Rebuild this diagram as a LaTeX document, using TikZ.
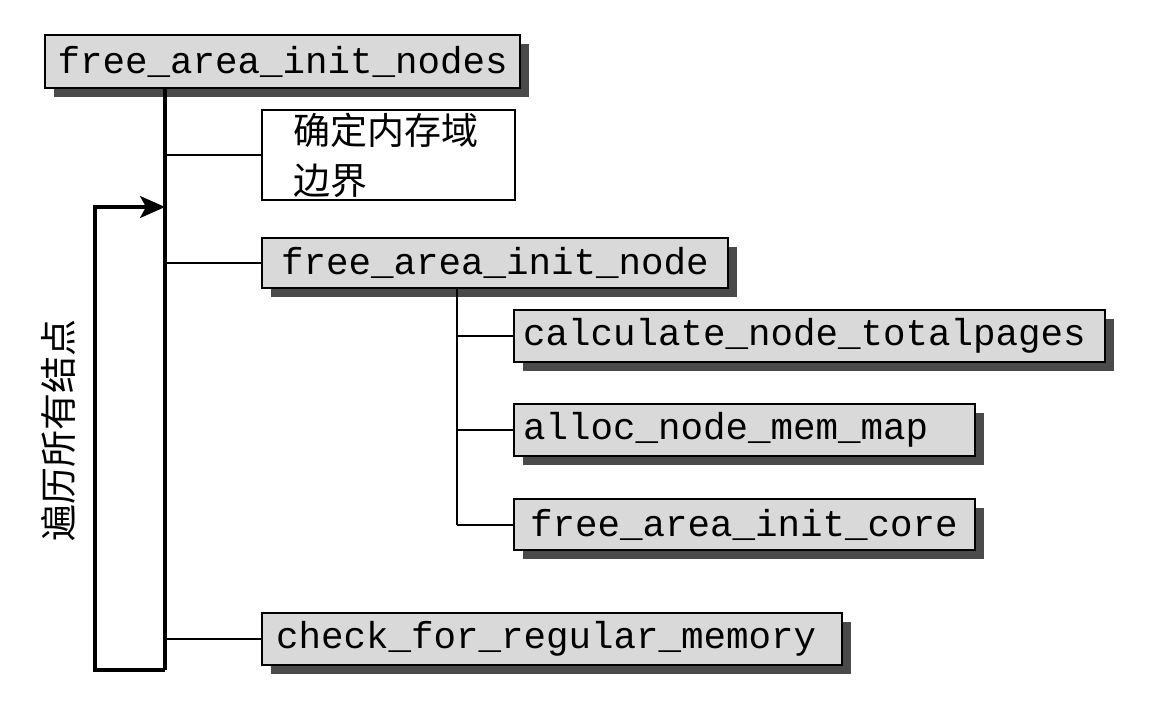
\documentclass[tikz,border=0pt]{standalone}
\usepackage{fontspec}
\setmonofont{Liberation Mono}
\newfontfamily\cjk{Noto Sans CJK SC}
\usetikzlibrary{shadows,arrows.meta}
\definecolor{boxgray}{HTML}{D9D9D9}
\definecolor{shadowgray}{HTML}{4A4A4A}
\begin{document}
\begin{tikzpicture}[x=0.5pt,y=-0.5pt,
  fnbox/.style={draw, line width=1pt, fill=boxgray, align=left, inner ysep=0pt,
    font=\fontsize{18.75}{22}\selectfont\ttfamily,
    drop shadow={shadow xshift=4.5pt, shadow yshift=-4.5pt, fill=shadowgray, opacity=1}},
  txtbox/.style={draw, line width=1pt, fill=white, align=left, inner ysep=0pt,
    font=\fontsize{18.5}{25}\selectfont\cjk},
  link/.style={line width=1pt},
  loopline/.style={line width=1.6pt}]
\useasboundingbox (0,0) rectangle (1152,708);
\fill[white] (0,0) rectangle (1152,708);

\node[fnbox, minimum width=237.5pt, minimum height=26.5pt, inner xsep=6.25pt, text width=225pt] (n1) at (282.5,61.5) {free\_area\_init\_nodes};
\node[txtbox, minimum width=126.5pt, minimum height=45pt, inner xsep=15.5pt, text width=95.5pt] (zone) at (388.5,155) {确定内存域\\边界};
\node[fnbox, minimum width=233pt, minimum height=25pt, inner xsep=9.5pt, text width=214pt] (n2) at (495,263) {free\_area\_init\_node};
\node[fnbox, minimum width=295.5pt, minimum height=26pt, inner xsep=4.5pt, text width=286.5pt] (calc) at (809.5,336) {calculate\_node\_totalpages};
\node[fnbox, minimum width=230.5pt, minimum height=26pt, inner xsep=4.5pt, text width=221.5pt] (alloc) at (744.5,430) {alloc\_node\_mem\_map};
\node[fnbox, minimum width=230.5pt, minimum height=25.5pt, inner xsep=8pt, text width=214.5pt] (core) at (744.5,524.5) {free\_area\_init\_core};
\node[fnbox, minimum width=290pt, minimum height=26pt, inner xsep=7pt, text width=276pt] (check) at (552,639) {check\_for\_regular\_memory};

\node[rotate=90, font=\fontsize{18.5}{22}\selectfont\cjk, inner sep=0pt] (loopl) at (58,430) {遍历所有结点};

\coordinate (t0) at (165,670);
\coordinate (s0) at (457,527);
\coordinate (L1) at (95,670);
\coordinate (L2) at (95,207);

% main trunk
\draw[loopline] (n1.south -| t0) -- (t0);
\draw[link] (t0 |- zone.west) -- (zone.west);
\draw[link] (t0 |- n2.west) -- (n2.west);
\draw[link] (t0 |- check.west) -- (check.west);
% sub trunk
\draw[link] (n2.south -| s0) -- (s0 |- core.west);
\draw[link] (s0 |- calc.west) -- (calc.west);
\draw[link] (s0 |- alloc.west) -- (alloc.west);
\draw[link] (s0 |- core.west) -- (core.west);
% loop
\draw[loopline, -{Stealth[length=12.5pt,width=11pt,inset=3pt]}] (t0) -- (L1) -- (L2) -- (t0 |- L2);
\end{tikzpicture}
\end{document}
